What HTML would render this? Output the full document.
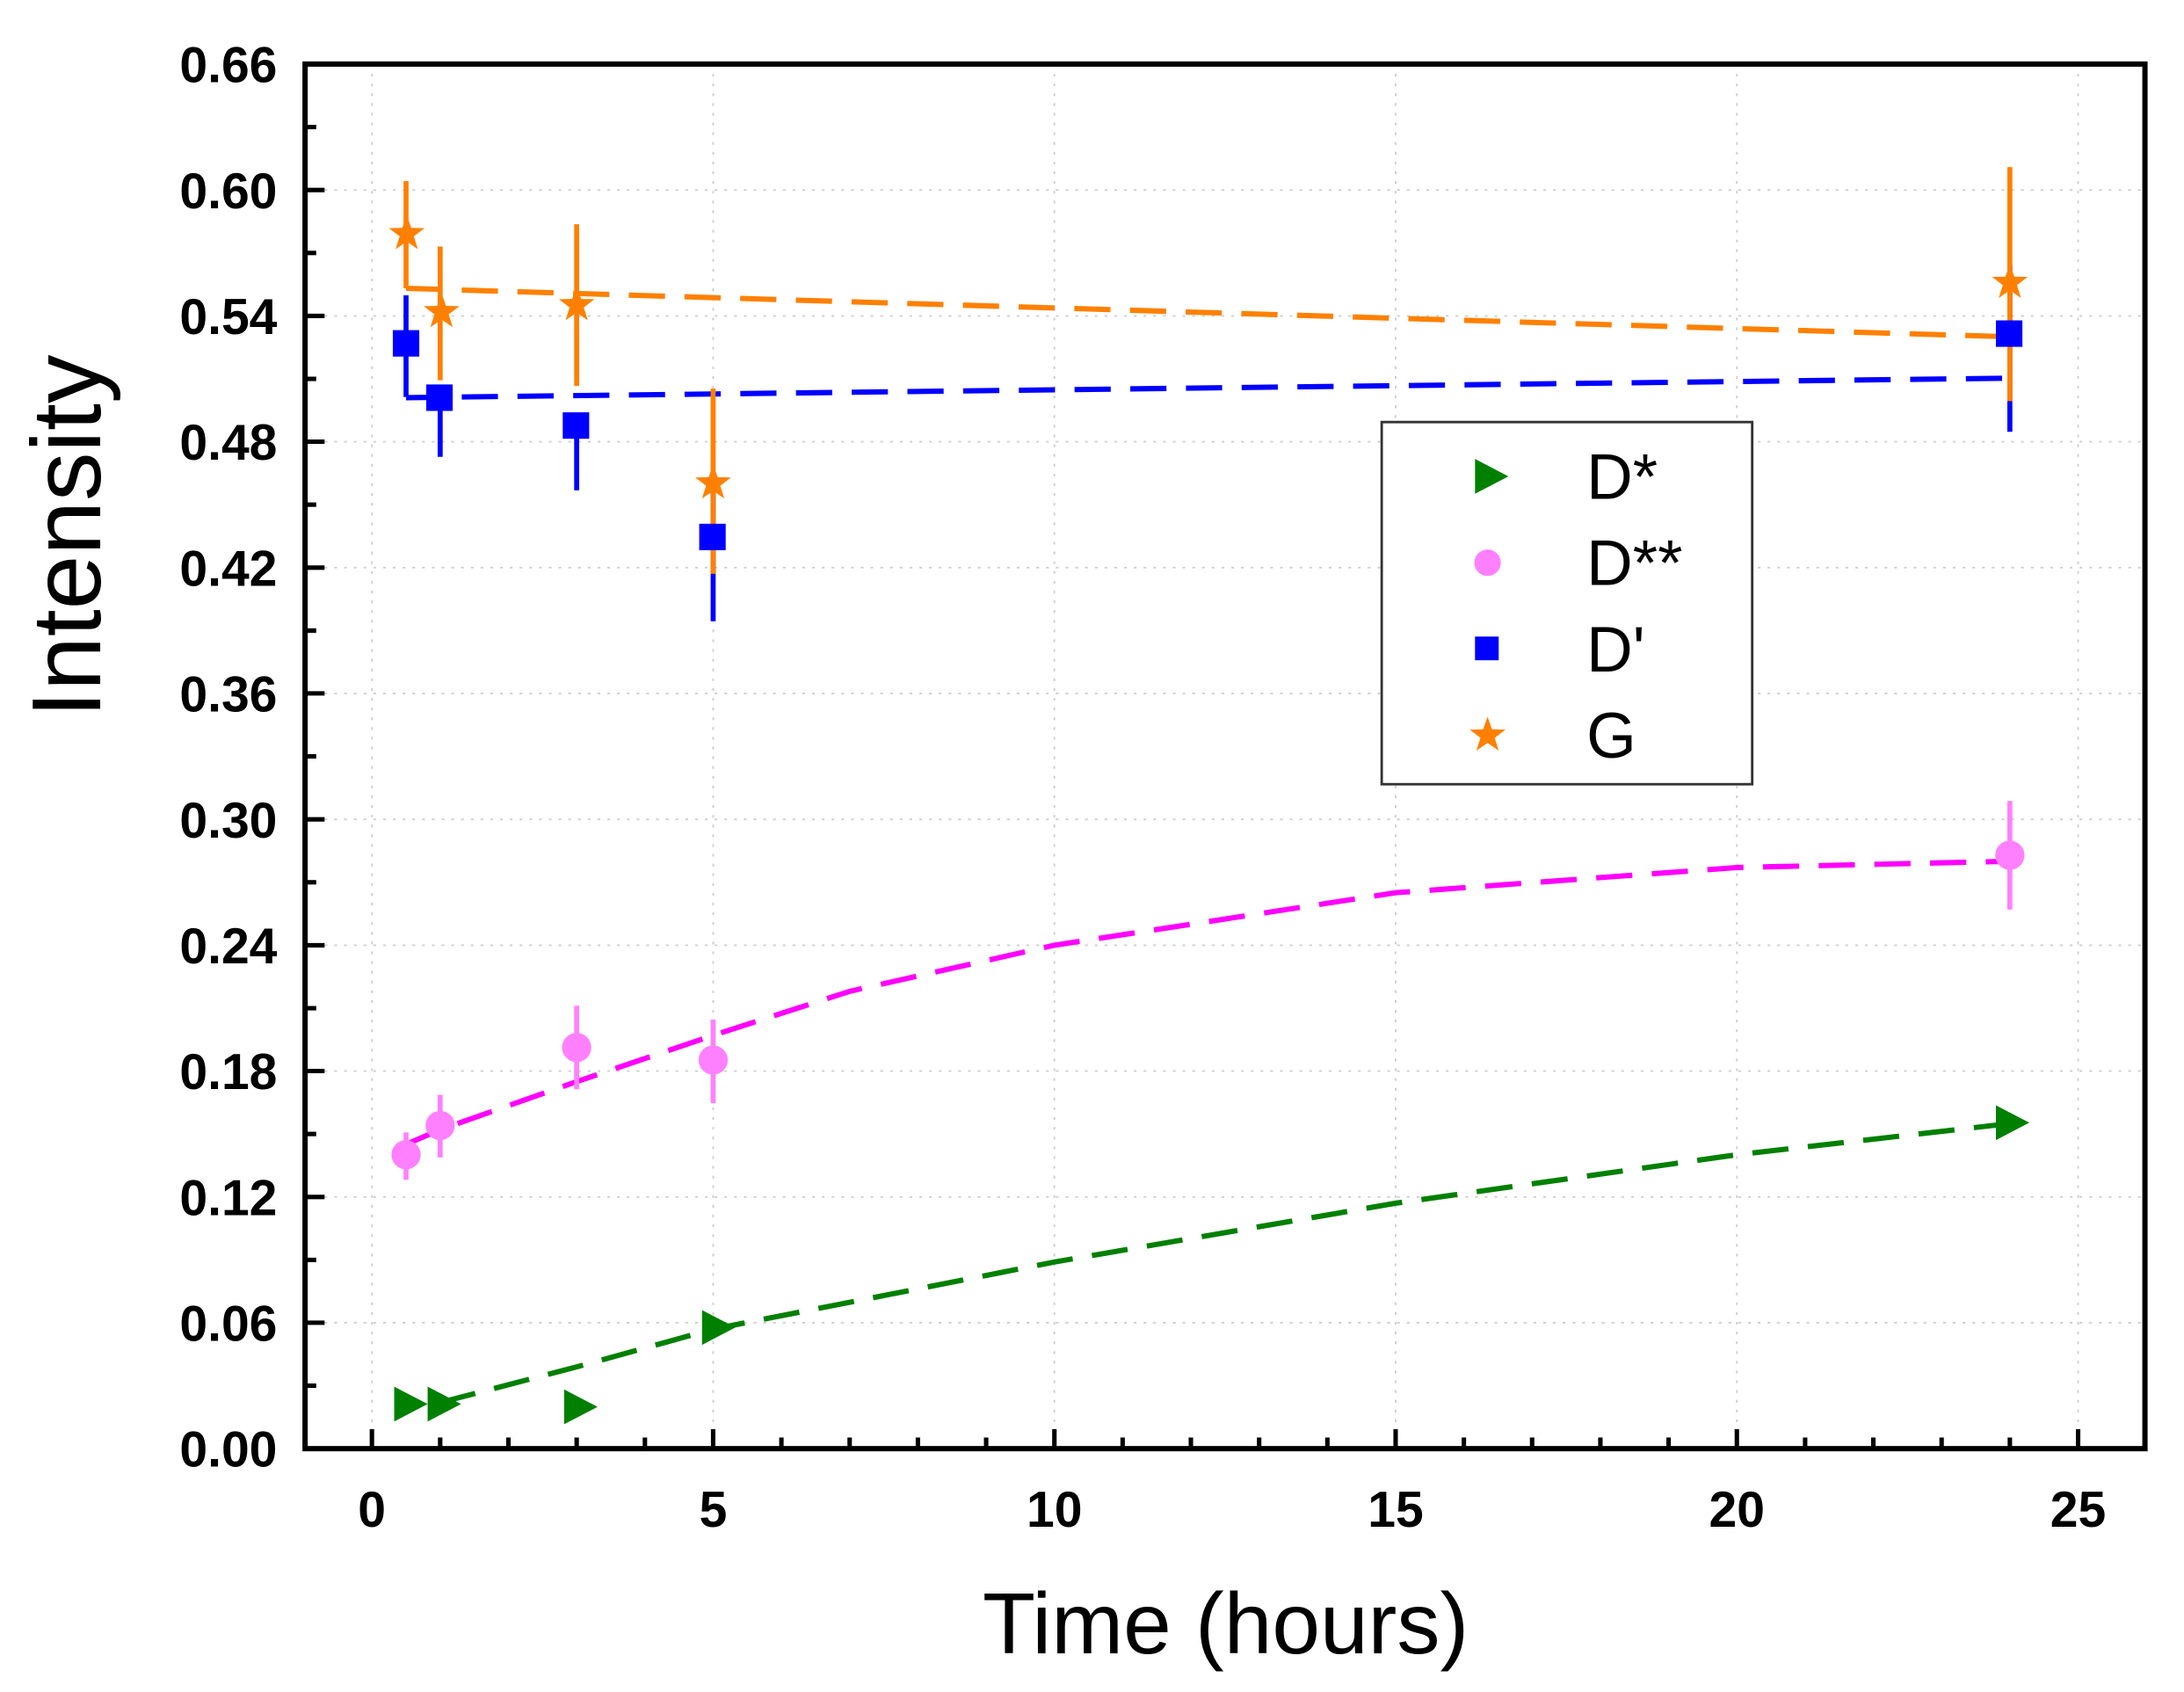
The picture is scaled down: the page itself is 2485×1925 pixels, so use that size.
<!DOCTYPE html>
<html><head><meta charset="utf-8"><style>
html,body{margin:0;padding:0;background:#fff;}
svg{display:block;}
text{font-family:"Liberation Sans",Arial,sans-serif;}
</style></head><body>
<svg width="2485" height="1925" viewBox="0 0 1568 1214.7" xmlns="http://www.w3.org/2000/svg">
<defs>
<path id="star" d="M0,-13.5 L3.2,-4.4 12.8,-4.2 5.1,1.7 8,10.9 0,5.4 -8,10.9 -5.1,1.7 -12.8,-4.2 -3.2,-4.4Z"/>
<path id="tri" d="M-11,-12.5 L13,0 L-11,12.5Z"/>
</defs>
<rect width="1568" height="1215" fill="#fff"/>
<!-- grid -->
<g stroke="#cfcfcf" stroke-width="1.2" stroke-dasharray="2,5">
<line x1="219" x2="1540" y1="136.4" y2="136.4"/>
<line x1="219" x2="1540" y1="226.8" y2="226.8"/>
<line x1="219" x2="1540" y1="317.1" y2="317.1"/>
<line x1="219" x2="1540" y1="407.5" y2="407.5"/>
<line x1="219" x2="1540" y1="497.8" y2="497.8"/>
<line x1="219" x2="1540" y1="588.2" y2="588.2"/>
<line x1="219" x2="1540" y1="678.6" y2="678.6"/>
<line x1="219" x2="1540" y1="768.9" y2="768.9"/>
<line x1="219" x2="1540" y1="859.3" y2="859.3"/>
<line x1="219" x2="1540" y1="949.6" y2="949.6"/>
<line y1="46" y2="1040" x1="267" x2="267"/>
<line y1="46" y2="1040" x1="512" x2="512"/>
<line y1="46" y2="1040" x1="757" x2="757"/>
<line y1="46" y2="1040" x1="1002" x2="1002"/>
<line y1="46" y2="1040" x1="1247" x2="1247"/>
<line y1="46" y2="1040" x1="1492" x2="1492"/>
</g>
<!-- fit lines -->
<g fill="none" stroke-width="3.8" stroke-dasharray="26,14">
<path stroke="#ff8000" d="M291.5,207 L1443,241.8"/>
<path stroke="#0000ff" d="M291.5,285.5 L1443,271.5"/>
<path stroke="#ff00ff" d="M291.5,821.6 L316,811 L414,776.5 L512,743.3 L610,711.7 L757,678.6 L1002,640.9 L1247,622.8 L1443,618.3"/>
<path stroke="#008000" d="M316,1006.9 L414,981.3 L512,954.2 L757,906 L1002,863.8 L1247,829 L1443,806.6"/>
</g>
<!-- error bars -->
<g stroke-width="3.6">
<g stroke="#0000ff">
<line x1="291.5" x2="291.5" y1="212" y2="285"/>
<line x1="316" x2="316" y1="286" y2="328"/>
<line x1="414" x2="414" y1="305" y2="352"/>
<line x1="512" x2="512" y1="345" y2="446"/>
<line x1="1443" x2="1443" y1="190" y2="310"/>
</g>
<g stroke="#ff8000">
<line x1="291.5" x2="291.5" y1="130" y2="207"/>
<line x1="316" x2="316" y1="177" y2="273"/>
<line x1="414" x2="414" y1="161" y2="277"/>
<line x1="512" x2="512" y1="279" y2="412"/>
<line x1="1443" x2="1443" y1="120" y2="288"/>
</g>
<g stroke="#ff80ff">
<line x1="291.5" x2="291.5" y1="813" y2="847"/>
<line x1="316" x2="316" y1="786" y2="831"/>
<line x1="414" x2="414" y1="722" y2="782"/>
<line x1="512" x2="512" y1="732" y2="792"/>
<line x1="1443" x2="1443" y1="575" y2="653"/>
</g>
</g>
<!-- markers -->
<g fill="#0000ff">
<rect x="282" y="237" width="19" height="19"/>
<rect x="306" y="276" width="19" height="19"/>
<rect x="404" y="296" width="19" height="19"/>
<rect x="502" y="376" width="19" height="19"/>
<rect x="1433" y="230" width="19" height="19"/>
</g>
<g fill="#ff8000">
<use href="#star" x="292" y="168"/>
<use href="#star" x="317" y="224"/>
<use href="#star" x="414" y="219"/>
<use href="#star" x="512" y="347"/>
<use href="#star" x="1443" y="203"/>
</g>
<g fill="#ff80ff">
<circle cx="291.5" cy="829" r="10.5"/>
<circle cx="316" cy="808" r="10.5"/>
<circle cx="414" cy="752" r="10.5"/>
<circle cx="512" cy="761" r="10.5"/>
<circle cx="1443" cy="614" r="10.5"/>
</g>
<g fill="#008000">
<use href="#tri" x="294" y="1008"/>
<use href="#tri" x="318" y="1008"/>
<use href="#tri" x="416" y="1010"/>
<use href="#tri" x="515" y="953"/>
<use href="#tri" x="1444" y="806"/>
</g>
<!-- axes frame -->
<rect x="219" y="46" width="1321" height="994" fill="none" stroke="#000" stroke-width="3.8"/>
<!-- y ticks -->
<g stroke="#000" stroke-width="3.2">
<line x1="219" x2="233" y1="46" y2="46"/><line x1="219" x2="227" y1="91.2" y2="91.2"/>
<line x1="219" x2="233" y1="136.4" y2="136.4"/><line x1="219" x2="227" y1="181.6" y2="181.6"/>
<line x1="219" x2="233" y1="226.8" y2="226.8"/><line x1="219" x2="227" y1="272" y2="272"/>
<line x1="219" x2="233" y1="317.1" y2="317.1"/><line x1="219" x2="227" y1="362.3" y2="362.3"/>
<line x1="219" x2="233" y1="407.5" y2="407.5"/><line x1="219" x2="227" y1="452.7" y2="452.7"/>
<line x1="219" x2="233" y1="497.8" y2="497.8"/><line x1="219" x2="227" y1="543" y2="543"/>
<line x1="219" x2="233" y1="588.2" y2="588.2"/><line x1="219" x2="227" y1="633.4" y2="633.4"/>
<line x1="219" x2="233" y1="678.6" y2="678.6"/><line x1="219" x2="227" y1="723.8" y2="723.8"/>
<line x1="219" x2="233" y1="768.9" y2="768.9"/><line x1="219" x2="227" y1="814.1" y2="814.1"/>
<line x1="219" x2="233" y1="859.3" y2="859.3"/><line x1="219" x2="227" y1="904.5" y2="904.5"/>
<line x1="219" x2="233" y1="949.6" y2="949.6"/><line x1="219" x2="227" y1="994.8" y2="994.8"/>
</g>
<!-- x ticks -->
<g stroke="#000" stroke-width="3.2">
<line x1="267" x2="267" y1="1040" y2="1026"/><line x1="316" x2="316" y1="1040" y2="1032"/><line x1="365" x2="365" y1="1040" y2="1032"/><line x1="414" x2="414" y1="1040" y2="1032"/><line x1="463" x2="463" y1="1040" y2="1032"/>
<line x1="512" x2="512" y1="1040" y2="1026"/><line x1="561" x2="561" y1="1040" y2="1032"/><line x1="610" x2="610" y1="1040" y2="1032"/><line x1="659" x2="659" y1="1040" y2="1032"/><line x1="708" x2="708" y1="1040" y2="1032"/>
<line x1="757" x2="757" y1="1040" y2="1026"/><line x1="806" x2="806" y1="1040" y2="1032"/><line x1="855" x2="855" y1="1040" y2="1032"/><line x1="904" x2="904" y1="1040" y2="1032"/><line x1="953" x2="953" y1="1040" y2="1032"/>
<line x1="1002" x2="1002" y1="1040" y2="1026"/><line x1="1051" x2="1051" y1="1040" y2="1032"/><line x1="1100" x2="1100" y1="1040" y2="1032"/><line x1="1149" x2="1149" y1="1040" y2="1032"/><line x1="1198" x2="1198" y1="1040" y2="1032"/>
<line x1="1247" x2="1247" y1="1040" y2="1026"/><line x1="1296" x2="1296" y1="1040" y2="1032"/><line x1="1345" x2="1345" y1="1040" y2="1032"/><line x1="1394" x2="1394" y1="1040" y2="1032"/><line x1="1443" x2="1443" y1="1040" y2="1032"/>
<line x1="1492" x2="1492" y1="1040" y2="1026"/>
</g>
<!-- y tick labels -->
<g font-size="36" font-weight="bold" text-anchor="end">
<text x="199" y="59">0.66</text>
<text x="199" y="149.4">0.60</text>
<text x="199" y="239.8">0.54</text>
<text x="199" y="330.1">0.48</text>
<text x="199" y="420.5">0.42</text>
<text x="199" y="510.8">0.36</text>
<text x="199" y="601.2">0.30</text>
<text x="199" y="691.6">0.24</text>
<text x="199" y="781.9">0.18</text>
<text x="199" y="872.3">0.12</text>
<text x="199" y="962.6">0.06</text>
<text x="199" y="1053">0.00</text>
</g>
<g font-size="36" font-weight="bold" text-anchor="middle">
<text x="267" y="1096">0</text>
<text x="512" y="1096">5</text>
<text x="757" y="1096">10</text>
<text x="1002" y="1096">15</text>
<text x="1247" y="1096">20</text>
<text x="1492" y="1096">25</text>
</g>
<text x="880" y="1187" font-size="62" text-anchor="middle">Time (hours)</text>
<text transform="translate(72,385) rotate(-90)" font-size="70" text-anchor="middle">Intensity</text>
<!-- legend -->
<rect x="992" y="303" width="266" height="260" fill="#fff" stroke="#333" stroke-width="1.8"/>
<use href="#tri" x="1070" y="342" fill="#008000"/>
<circle cx="1068" cy="404" r="9.5" fill="#ff80ff"/>
<rect x="1059" y="457" width="17" height="17" fill="#0000ff"/>
<use href="#star" x="1068" y="528" fill="#ff8000"/>
<g font-size="46">
<text x="1139" y="358">D*</text>
<text x="1139" y="420">D**</text>
<text x="1139" y="482">D'</text>
<text x="1139" y="544">G</text>
</g>
</svg>
</body></html>
